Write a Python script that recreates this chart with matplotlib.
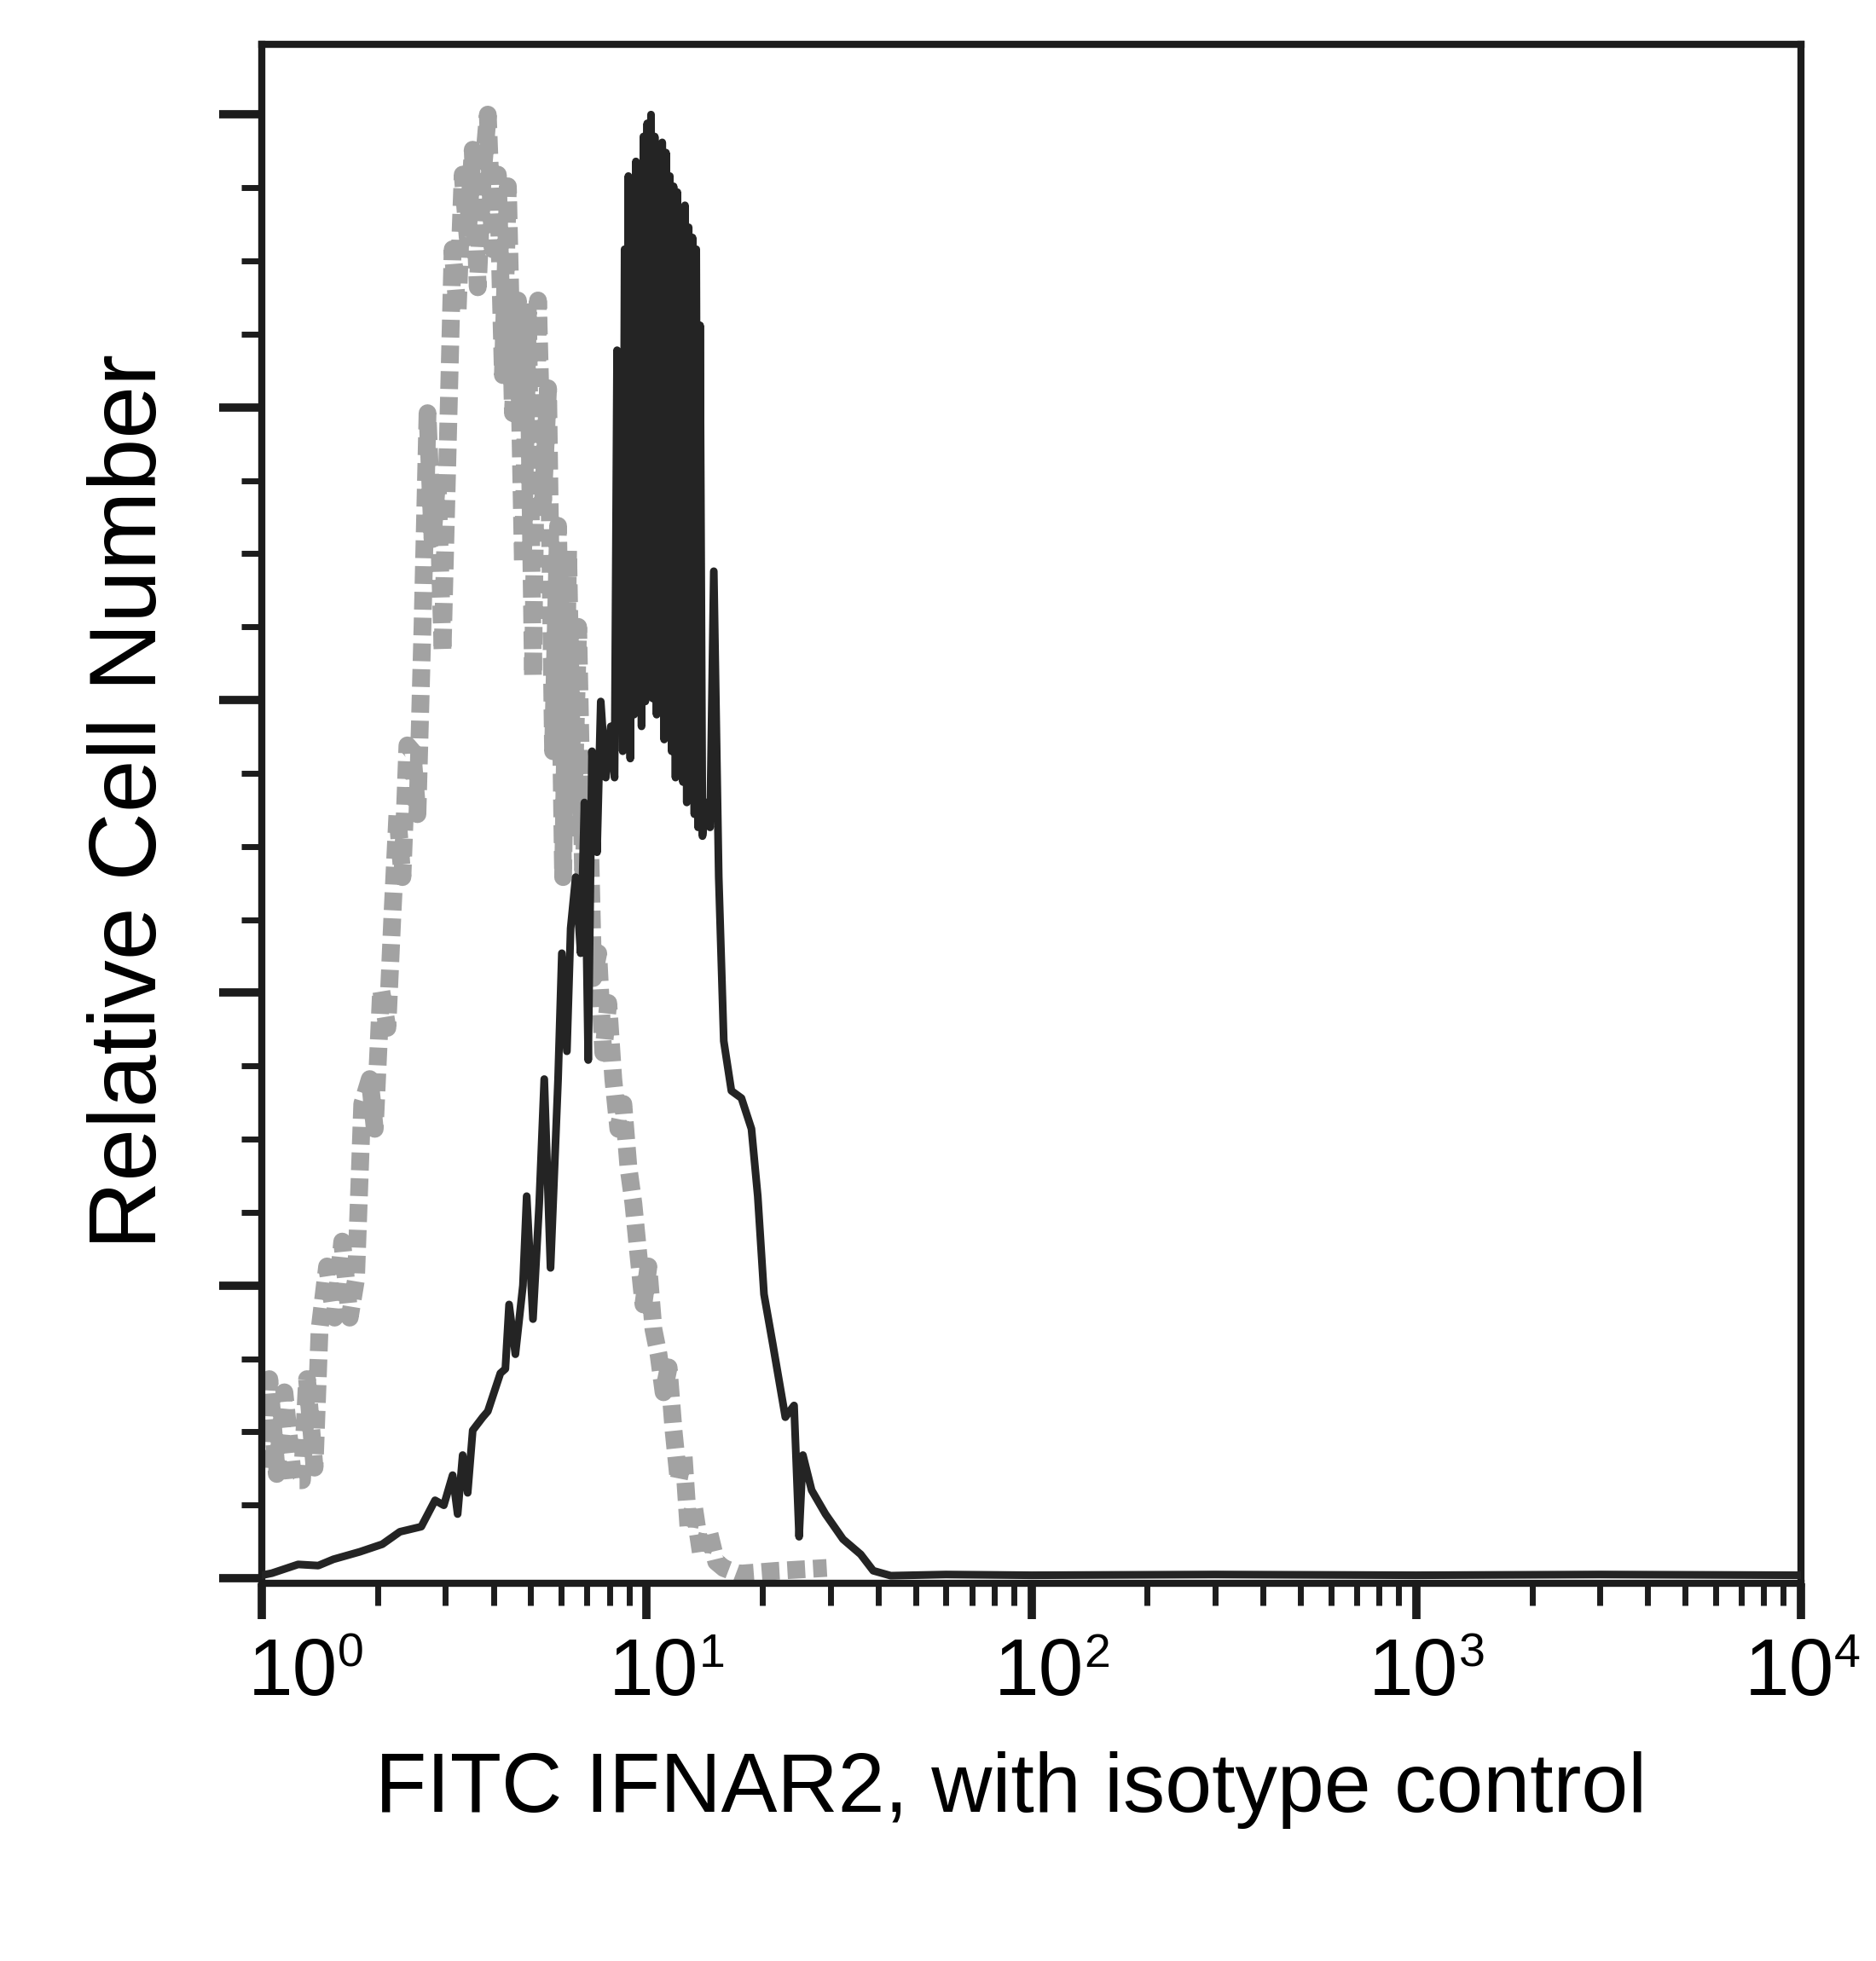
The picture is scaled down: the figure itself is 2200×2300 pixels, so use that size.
import matplotlib
matplotlib.use('Agg')
import matplotlib.pyplot as plt
import matplotlib.transforms as mtransforms
from matplotlib.ticker import FixedLocator, NullFormatter

plt.rcParams['font.family'] = ['Liberation Sans', 'DejaVu Sans']

# ---------------- data ----------------
# FITC IFNAR2 stained sample (dark line)
sample_fl = [1.000, 1.062, 1.243, 1.402, 1.535, 1.797, 2.057, 2.285, 2.597, 2.820,
             2.972, 3.133, 3.228, 3.327, 3.428, 3.533, 3.752, 3.867, 4.015, 4.169,
             4.295, 4.392, 4.561, 4.771, 4.880, 5.067, 5.260, 5.421, 5.628, 5.888,
             6.023, 6.207, 6.348, 6.542, 6.741, 6.895, 7.052, 7.213, 7.433, 7.602,
             7.834, 8.072, 8.256, 8.381,
             8.476, 8.572, 8.670, 8.768, 8.867, 8.968, 9.070, 9.173, 9.277, 9.382,
             9.488, 9.596, 9.703, 9.813, 9.924, 10.04, 10.15, 10.27, 10.38, 10.50,
             10.62, 10.74, 10.86, 10.98, 11.11, 11.23, 11.36, 11.49, 11.62, 11.75,
             11.89, 12.02, 12.16, 12.29, 12.43, 12.58, 12.72, 12.86, 13.01, 13.16,
             13.31, 13.46, 13.61, 13.77, 13.97,
             14.29, 14.62, 14.95, 15.40, 15.87, 16.61, 17.64, 18.73, 19.45, 20.19,
             21.28, 22.94, 24.17, 24.91, 25.48, 26.85, 29.17, 32.40, 36.00, 38.81,
             43.11, 60.0, 100.0, 300.0, 1000.0, 3000.0, 10000.0]
sample_count = [0.2, 0.34, 0.94, 0.86, 1.29, 1.80, 2.32, 3.17, 3.52, 5.32,
                4.98, 7.04, 4.38, 8.41, 5.83, 10.1, 11.0, 11.4, 12.7, 14.0,
                14.3, 18.7, 15.3, 20.0, 26.1, 17.7, 25.6, 34.1, 21.2, 34.1,
                42.7, 36.0, 44.4, 47.9, 42.7, 53.0, 35.4, 56.5, 49.6, 59.9,
                54.7, 58.2, 54.7, 83.9,
                58.4, 82.2, 56.5, 90.8, 57.3, 95.8, 56.0, 94.2, 59.0, 96.8,
                59.9, 95.1, 58.2, 98.5, 59.9, 99.4, 60.7, 100.0, 60.1, 98.5,
                59.0, 96.8, 59.9, 98.1, 57.3, 97.4, 58.1, 95.8, 56.5, 95.1,
                54.7, 94.7, 55.6, 93.4, 54.4, 93.8, 53.0, 92.3, 53.9, 91.6,
                52.2, 90.8, 51.3, 85.6, 50.7,
                53.0, 51.3, 68.8, 47.9, 36.7, 33.3, 32.8, 30.7, 26.1, 19.4,
                16.0, 11.0, 11.8, 2.83, 8.41, 6.01, 4.38, 2.66, 1.63, 0.51,
                0.17, 0.25, 0.2, 0.25, 0.2, 0.25, 0.2]

# isotype control (grey line)
isotype_fl = [1.015, 1.046, 1.094, 1.145, 1.207, 1.272, 1.311, 1.371, 1.413, 1.478,
              1.546, 1.618, 1.692, 1.757, 1.824, 1.908, 1.966, 2.042, 2.120, 2.185,
              2.251, 2.320, 2.390, 2.463, 2.538, 2.616, 2.696, 2.778, 2.862, 2.950,
              3.040, 3.133, 3.228, 3.327, 3.428, 3.533, 3.641, 3.752, 3.867, 3.985,
              4.106, 4.232, 4.361, 4.494, 4.631, 4.771, 4.918, 5.067, 5.222, 5.382,
              5.546, 5.714, 5.888, 6.068, 6.253, 6.443, 6.640, 6.842, 7.052, 7.266,
              7.488, 7.716, 7.951, 8.194, 8.444, 8.702, 8.968, 9.241, 9.523, 9.813,
              10.11, 10.42, 10.74, 11.07, 11.41, 11.75, 12.11, 12.48, 12.86, 13.26,
              13.87, 14.50, 15.17, 15.87, 17.37, 21.76, 29.39]
isotype_count = [7.55, 13.6, 7.12, 12.7, 6.69, 6.69, 13.6, 7.55, 17.0, 21.3,
                 17.8, 23.0, 17.8, 20.4, 32.4, 34.1, 30.7, 40.2, 37.6, 45.3,
                 52.2, 47.9, 56.9, 56.5, 52.2, 65.0, 79.6, 71.0, 75.3, 63.3,
                 77.0, 90.8, 86.5, 95.9, 91.6, 97.6, 88.2, 95.9, 100.0, 90.8,
                 95.9, 82.2, 95.1, 79.6, 87.3, 69.3, 86.5, 61.6, 87.3, 73.6,
                 81.3, 56.5, 71.9, 47.9, 70.2, 51.3, 65.0, 47.9, 55.6, 41.0,
                 42.7, 35.9, 39.3, 34.1, 30.7, 32.4, 28.1, 25.6, 22.1, 18.7,
                 21.3, 17.0, 15.3, 12.7, 14.4, 10.1, 6.69, 8.41, 3.26, 4.98,
                 1.54, 3.26, 1.12, 0.69, 0.3, 0.5, 0.7]

decade_exponents = [0, 1, 2, 3, 4]
y_major_ticks = [0, 20, 40, 60, 80, 100]
y_minor_ticks = [5, 10, 15, 25, 30, 35, 45, 50, 55, 65, 70, 75, 85, 90, 95]
x_label = 'FITC IFNAR2, with isotype control'
y_label = 'Relative Cell Number'

# ---------------- figure ----------------
INK = '#1c1c1c'
fig = plt.figure(figsize=(22, 23), dpi=100, facecolor='white')
ax = fig.add_axes([0.13955, 0.19261, 0.82045, 0.78478])

ax.plot(isotype_fl, isotype_count, color='#a2a2a2', lw=15,
        ls=(0, (1.0, 0.45)), dash_capstyle='butt', solid_joinstyle='round',
        dash_joinstyle='round', zorder=2)
ax.plot(sample_fl, sample_count, color='#242424', lw=6.5,
        solid_joinstyle='round', zorder=3)

ax.set_xscale('log')
ax.set_xlim(1, 1e4)
ax.set_ylim(-0.35, 104.8)

ax.xaxis.set_major_locator(FixedLocator([10.0 ** e for e in decade_exponents]))
ax.xaxis.set_minor_locator(FixedLocator([m * 10.0 ** e for e in range(4) for m in range(2, 10)]))
ax.xaxis.set_major_formatter(NullFormatter())
ax.xaxis.set_minor_formatter(NullFormatter())
ax.yaxis.set_major_locator(FixedLocator(y_major_ticks))
ax.yaxis.set_minor_locator(FixedLocator(y_minor_ticks))
ax.yaxis.set_major_formatter(NullFormatter())
ax.yaxis.set_minor_formatter(NullFormatter())

ax.tick_params(axis='x', which='major', direction='out', length=30, width=7, color=INK)
ax.tick_params(axis='x', which='minor', direction='out', length=19, width=5, color=INK)
ax.tick_params(axis='y', which='major', direction='out', length=36, width=7, color=INK)
ax.tick_params(axis='y', which='minor', direction='out', length=17, width=5, color=INK)

for s in ax.spines.values():
    s.set_linewidth(6)
    s.set_color(INK)

# decade tick labels "10" with superscript exponent
trans = mtransforms.blended_transform_factory(ax.transData, ax.transAxes)
label_shift_px = [36, 8, 9, -3, -14]
for e, sh in zip(decade_exponents, label_shift_px):
    t_main = mtransforms.offset_copy(trans, fig=fig, x=sh * 0.72, y=-131 * 0.72, units='points')
    ax.text(10.0 ** e, 0, '10', transform=t_main, ha='center', va='baseline',
            fontsize=68, color='black', clip_on=False)
    t_sup = mtransforms.offset_copy(trans, fig=fig, x=(sh + 53) * 0.72, y=(-131 + 33) * 0.72, units='points')
    ax.text(10.0 ** e, 0, str(e), transform=t_sup, ha='left', va='baseline',
            fontsize=40, color='black', clip_on=False)

fig.text(1186 / 2200, 1 - 2125 / 2300, x_label, ha='center', va='baseline',
         fontsize=71, color='black')
fig.text(183 / 2200, 1 - 940 / 2300, y_label, rotation=90, rotation_mode='anchor',
         ha='center', va='baseline', fontsize=80, color='black')

fig.savefig('out.png', dpi=100, facecolor='white')
